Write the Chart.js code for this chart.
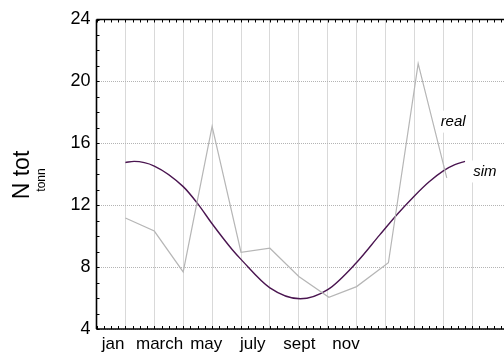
<!DOCTYPE html>
<html>
<head>
<meta charset="utf-8">
<script src="https://cdn.jsdelivr.net/npm/chart.js@4.4.1/dist/chart.umd.min.js"></script>
<style>
html,body{margin:0;padding:0;background:#fff;overflow:hidden;}
canvas{display:block;}
</style>
</head>
<body>
<canvas id="c" width="504" height="353"></canvas>
<script>
// ---- data ----
const xTickLabels = ['jan', 'march', 'may', 'july', 'sept', 'nov'];
const yTicks = [4, 8, 12, 16, 20, 24];
const realX = [0, 1, 2, 3, 4, 5, 6, 7.04, 8, 9.1, 10.13, 11.12];
const realY = [11.17, 10.33, 7.69, 17.09, 8.96, 9.22, 7.39, 6.05, 6.74, 8.28, 21.15, 13.77];
const simX = [0, 0.3, 1, 2, 2.5, 3, 3.7, 4, 5, 6.05, 7, 8, 8.8, 9.4, 10, 10.5, 11, 11.4, 11.75];
const simY = [14.76, 14.83, 14.53, 13.2, 12.1, 10.8, 9.12, 8.5, 6.66, 5.95, 6.54, 8.3, 10.08, 11.4, 12.6, 13.5, 14.22, 14.62, 14.83];
const seriesNames = ['real', 'sim'];
const yTitle = 'N tot';
const yUnit = 'tonn';

const FONT = '"Liberation Sans", Arial, sans-serif';

const deco = {
  id: 'deco',
  afterDatasetsDraw(chart) {
    const ctx = chart.ctx, x = chart.scales.x, y = chart.scales.y;
    const labels = [
      {t: seriesNames[0], xv: 11.34, yv: 17.4},
      {t: seriesNames[1], xv: 12.44, yv: 14.18}
    ];
    ctx.save();
    ctx.font = 'italic 15px ' + FONT;
    ctx.textAlign = 'center';
    ctx.textBaseline = 'middle';
    labels.forEach(l => {
      const px = x.getPixelForValue(l.xv), py = y.getPixelForValue(l.yv);
      const w = ctx.measureText(l.t).width;
      ctx.fillStyle = '#fff';
      ctx.fillRect(px - w / 2 - 2, py - 11, w + 4, 22);
      ctx.fillStyle = '#000';
      ctx.fillText(l.t, px, py);
    });
    ctx.restore();
  },
  afterDraw(chart) {
    const ctx = chart.ctx, x = chart.scales.x, y = chart.scales.y;
    const a = chart.chartArea;
    ctx.save();
    ctx.strokeStyle = '#000';
    ctx.lineWidth = 1;
    ctx.beginPath();
    for (let v = x.min; v <= x.max + 1e-9; v += 0.25) {
      const px = Math.round(x.getPixelForValue(v)) + 0.5;
      ctx.moveTo(px, a.top); ctx.lineTo(px, a.top + 3);
      ctx.moveTo(px, a.bottom); ctx.lineTo(px, a.bottom - 3);
    }
    for (let v = y.min; v <= y.max + 1e-9; v += 1) {
      const py = Math.round(y.getPixelForValue(v)) + 0.5;
      ctx.moveTo(a.left, py); ctx.lineTo(a.left + 3, py);
    }
    ctx.stroke();
    ctx.lineWidth = 1.6;
    ctx.beginPath();
    ctx.moveTo(a.left, a.top); ctx.lineTo(a.right, a.top);
    ctx.moveTo(a.left, a.top); ctx.lineTo(a.left, a.bottom);
    ctx.moveTo(a.left, a.bottom); ctx.lineTo(a.right, a.bottom);
    ctx.stroke();
    // axis titles
    ctx.fillStyle = '#000';
    ctx.textAlign = 'center';
    ctx.textBaseline = 'middle';
    ctx.save();
    ctx.translate(23, 175);
    ctx.rotate(-Math.PI / 2);
    ctx.font = '23px ' + FONT;
    ctx.fillText(yTitle, 0, 0);
    ctx.restore();
    ctx.save();
    ctx.translate(42, 180);
    ctx.rotate(-Math.PI / 2);
    ctx.font = '12px ' + FONT;
    ctx.fillText(yUnit, 0, 0);
    ctx.restore();
    ctx.restore();
  }
};

new Chart(document.getElementById('c'), {
  type: 'line',
  data: {
    datasets: [
      {
        label: seriesNames[0],
        data: realX.map((v, i) => ({x: v, y: realY[i]})),
        borderColor: '#b6b6b6',
        borderWidth: 1.2,
        pointRadius: 0,
        tension: 0,
        fill: false
      },
      {
        label: seriesNames[1],
        data: simX.map((v, i) => ({x: v, y: simY[i]})),
        borderColor: '#4a1550',
        borderWidth: 1.4,
        pointRadius: 0,
        cubicInterpolationMode: 'monotone',
        fill: false
      }
    ]
  },
  options: {
    responsive: false,
    animation: false,
    layout: {padding: {top: 19.5, right: 0, left: 0, bottom: 0}},
    plugins: {legend: {display: false}, tooltip: {enabled: false}},
    scales: {
      x: {
        type: 'linear',
        position: 'bottom',
        weight: 0,
        min: -1,
        max: 13.1,
        ticks: {display: false, stepSize: 1},
        grid: {color: '#b4b4b4', lineWidth: 1, drawTicks: false},
        border: {display: false, dash: [1, 1]},
        afterFit(s) { s.height = 0; s.paddingLeft = 0; s.paddingRight = 0; }
      },
      x2: {
        type: 'linear',
        position: 'bottom',
        weight: 1,
        min: -0.354,
        max: 8.39,
        afterBuildTicks(s) { s.ticks = xTickLabels.map((_, i) => ({value: i})); },
        ticks: {
          autoSkip: false,
          maxRotation: 0,
          padding: 5,
          color: '#000',
          font: {family: FONT, size: 17},
          callback: (v, i) => xTickLabels[i]
        },
        grid: {display: false, drawTicks: false},
        border: {display: false},
        afterFit(s) { s.height = 24; s.paddingLeft = 0; s.paddingRight = 0; }
      },
      y: {
        type: 'linear',
        min: 4,
        max: 24,
        afterBuildTicks(s) { s.ticks = yTicks.map(v => ({value: v})); },
        ticks: {
          padding: 6,
          color: '#000',
          font: {family: FONT, size: 18},
          callback: v => String(v)
        },
        grid: {color: '#b4b4b4', lineWidth: 1, drawTicks: false},
        border: {display: false, dash: [1, 1]},
        afterFit(s) { s.width = 96.5; }
      }
    }
  },
  plugins: [deco]
});
</script>
</body>
</html>
